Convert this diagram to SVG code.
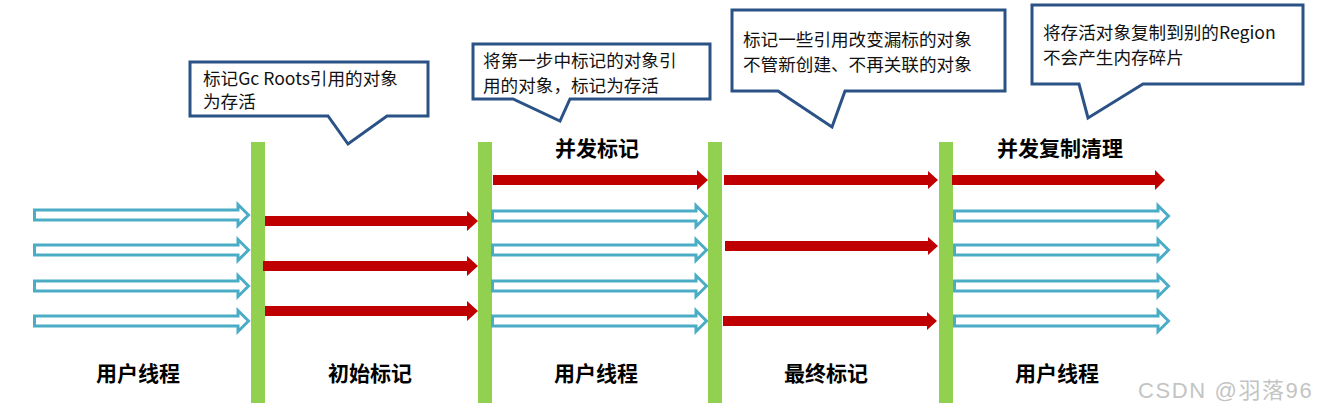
<svg xmlns="http://www.w3.org/2000/svg" xmlns:xlink="http://www.w3.org/1999/xlink" width="1320" height="414" viewBox="0 0 1320 414">
<style>
.bar{fill:#92D050}
.call{fill:#fff;stroke:#2B5286;stroke-width:3;stroke-linejoin:miter}
.ct{font-family:"Noto Sans CJK SC","Noto Sans",sans-serif;font-size:17.6px;fill:#111}
.lb{font-family:"Noto Sans CJK SC","Noto Sans",sans-serif;font-size:21px;font-weight:bold;fill:#000;text-anchor:middle}
.red{fill:#C00000}
.blue{fill:#fff;stroke:#4BACC6;stroke-width:3;stroke-linejoin:miter}
.wm{font-family:"Liberation Sans","Noto Sans CJK SC",sans-serif;font-size:22px;letter-spacing:1.6px;fill:#c4c4c4}
</style>
<defs>
<path id="ba" class="blue" d="M1.5,-5 H205 V-10.5 L215.5,0 L205,10.5 V5 H1.5 Z"/>
</defs>
<rect width="1320" height="414" fill="#fff"/>

<g id="callout1">
<path class="call" d="M190,62 H428 V116 H387 L348,144 L328,116 H190 Z"/>
<text class="ct" x="203" y="85">标记Gc Roots引用的对象</text>
<text class="ct" x="203" y="108">为存活</text>
</g>
<g id="callout2">
<path class="call" d="M473,44 H710 V99 H570 L560,121 L513,99 H473 Z"/>
<text class="ct" x="483" y="67">将第一步中标记的对象引</text>
<text class="ct" x="483" y="92">用的对象，标记为存活</text>
</g>
<g id="callout3">
<path class="call" d="M732,10 H1005 V91 H845 L832,127 L778,91 H732 Z"/>
<text class="ct" x="743" y="46">标记一些引用改变漏标的对象</text>
<text class="ct" x="743" y="71">不管新创建、不再关联的对象</text>
</g>
<g id="callout4">
<path class="call" d="M1032,5 H1303 V84 H1143 L1088,118 L1079,84 H1032 Z"/>
<text class="ct" x="1043" y="39">将存活对象复制到别的Region</text>
<text class="ct" x="1043" y="64">不会产生内存碎片</text>
</g>

<g id="bar1"><rect class="bar" x="251" y="142" width="14" height="261"/></g>
<g id="bar2"><rect class="bar" x="478" y="142" width="14" height="261"/></g>
<g id="bar3"><rect class="bar" x="708" y="142" width="14" height="261"/></g>
<g id="bar4"><rect class="bar" x="939" y="142" width="14" height="261"/></g>

<g id="title-concurrent-mark"><text class="lb" x="597" y="156">并发标记</text></g>
<g id="title-concurrent-copy"><text class="lb" x="1060" y="156">并发复制清理</text></g>

<g id="label-user1"><text class="lb" x="138" y="381">用户线程</text></g>
<g id="label-initial"><text class="lb" x="370" y="381">初始标记</text></g>
<g id="label-user2"><text class="lb" x="596" y="381">用户线程</text></g>
<g id="label-final"><text class="lb" x="826" y="381">最终标记</text></g>
<g id="label-user3"><text class="lb" x="1057" y="381">用户线程</text></g>

<g id="connectors">
<use xlink:href="#ba" href="#ba" x="33" y="215"/>
<use xlink:href="#ba" href="#ba" x="33" y="250"/>
<use xlink:href="#ba" href="#ba" x="33" y="286"/>
<use xlink:href="#ba" href="#ba" x="33" y="321"/>

<use xlink:href="#ba" href="#ba" x="491" y="216"/>
<use xlink:href="#ba" href="#ba" x="491" y="250"/>
<use xlink:href="#ba" href="#ba" x="491" y="286"/>
<use xlink:href="#ba" href="#ba" x="491" y="321"/>

<use xlink:href="#ba" href="#ba" x="953" y="216"/>
<use xlink:href="#ba" href="#ba" x="953" y="250"/>
<use xlink:href="#ba" href="#ba" x="953" y="286"/>
<use xlink:href="#ba" href="#ba" x="953" y="321"/>

<path class="red" d="M265,216 H467 V211 L478,221 L467,231 V226 H265 Z"/>
<path class="red" d="M263,261 H467 V256 L478,266 L467,276 V271 H263 Z"/>
<path class="red" d="M265,306 H467 V301 L478,311 L467,321 V316 H265 Z"/>

<path class="red" d="M493,175 H697 V170 L708,180 L697,190 V185 H493 Z"/>

<path class="red" d="M724,175 H928 V171 L938,180 L928,189 V185 H724 Z"/>
<path class="red" d="M725,241 H928 V237 L938,246 L928,255 V251 H725 Z"/>
<path class="red" d="M723,316 H927 V312 L937,321 L927,330 V326 H723 Z"/>

<path class="red" d="M952,175 H1155 V170 L1165,180 L1155,190 V185 H952 Z"/>
</g>

<text class="wm" x="1138" y="398">CSDN @羽落96</text>
</svg>
